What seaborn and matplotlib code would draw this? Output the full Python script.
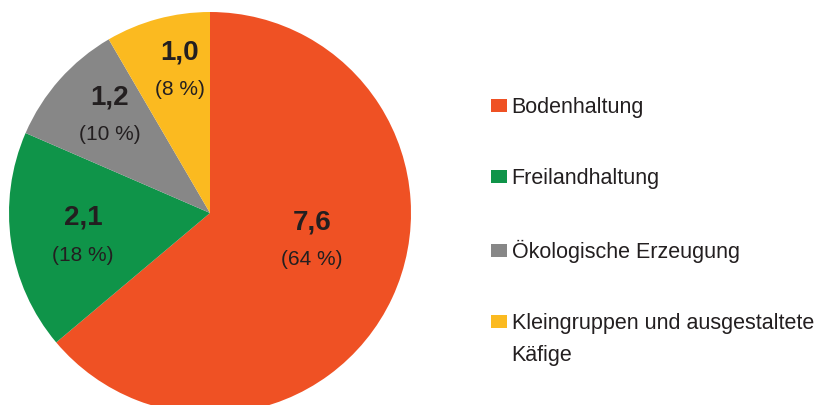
import numpy as np
import seaborn as sns
import matplotlib.pyplot as plt
from matplotlib.patches import Patch

# Legehennenhaltung, Mio. Plaetze
categories = ['Bodenhaltung', 'Freilandhaltung', 'Ökologische Erzeugung', 'Kleingruppen und ausgestaltete']
values = [7.6, 2.1, 1.2, 1.0]
value_labels = ['7,6', '2,1', '1,2', '1,0']
pct_labels = ['(64 %)', '(18 %)', '(10 %)', '(8 %)']
extra_line = 'Käfige'

colors = sns.color_palette(['#ef5124', '#0f9449', '#878787', '#fbba20'])
txt_col = '#231f20'

sns.set_theme(style='white')
plt.rcParams['font.family'] = ['Liberation Sans', 'DejaVu Sans']

fig = plt.figure(figsize=(8.18, 4.05), dpi=100)
ax = fig.add_axes([9 / 818, (192 - 201) / 405, 402 / 818, 402 / 405])
wedges, _ = ax.pie(values, colors=colors, startangle=90, counterclock=False,
                   radius=1, wedgeprops=dict(linewidth=0))
ax.set_xlim(-1, 1)
ax.set_ylim(-1, 1)
ax.set_axis_off()

# label placement inside each wedge
label_r = [0.525, 0.64, 0.70, 0.73]
nudge = [10.4, 1.5, -2.8, -3.3]
for w, v, p, r, n in zip(wedges, value_labels, pct_labels, label_r, nudge):
    ang = np.deg2rad((w.theta1 + w.theta2) / 2 + n)
    x, y = r * np.cos(ang), r * np.sin(ang)
    ax.text(x, y + 0.085, v, ha='center', va='center', fontsize=20,
            fontweight='bold', color=txt_col)
    ax.text(x, y - 0.1, p, ha='center', va='center', fontsize=15,
            color=txt_col)

handles = [Patch(facecolor=c, edgecolor='none') for c in colors]
fs = 15.5
leg = fig.legend(handles, categories, loc='upper left',
                 bbox_to_anchor=(491 / 818, 1 - 97 / 405), frameon=False,
                 fontsize=fs, handlelength=0.74, handleheight=0.56,
                 handletextpad=0.22, labelspacing=2.34, borderpad=0,
                 borderaxespad=0)
for t in leg.get_texts():
    t.set_color(txt_col)

fig.canvas.draw()
bb = leg.get_texts()[-1].get_window_extent()
fig.text(bb.x0 / 818, (bb.y0 + bb.y1) / 2 / 405 - 32 / 405, extra_line,
         ha='left', va='center', fontsize=fs, color=txt_col)

fig.savefig('out.png', dpi=100)
